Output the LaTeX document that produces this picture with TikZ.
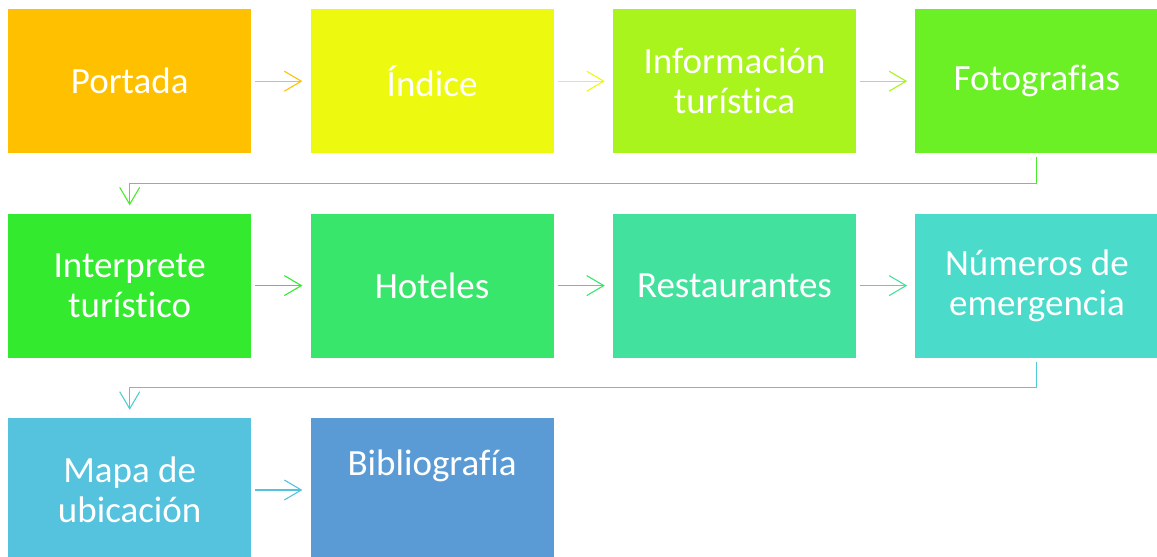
\documentclass[tikz,border=0pt]{standalone}
\usepackage{fontspec}
\setmainfont{Carlito}[Ligatures=NoCommon]
\usetikzlibrary{positioning,arrows.meta}

\definecolor{cPortada}{HTML}{FFC000}
\definecolor{cIndice}{HTML}{EDF90F}
\definecolor{cInfo}{HTML}{A8F41C}
\definecolor{cFotos}{HTML}{6BF026}
\definecolor{cInterprete}{HTML}{33EA2F}
\definecolor{cHoteles}{HTML}{37E66A}
\definecolor{cRestaurantes}{HTML}{43E19E}
\definecolor{cNumeros}{HTML}{4BDBCB}
\definecolor{cMapa}{HTML}{55C2DE}
\definecolor{cBiblio}{HTML}{5B9BD5}

\begin{document}
\begin{tikzpicture}[x=1pt,y=1pt,node distance=60pt and 59pt,
caja/.style={#1,fill=#1,rectangle,minimum width=243pt,minimum height=144pt,inner sep=0pt,align=center,text=white,font=\fontsize{37}{40}\selectfont},
flecha/.style={#1,line width=1.1pt,-{Straight Barb[length=17pt,width=20pt]},shorten <=4pt,shorten >=8pt}]
\useasboundingbox (0,0) rectangle (1157,557);
% primera fila
\node[caja=cPortada,anchor=north west] (portada) at (8,548) {Portada};
\node[caja=cIndice,right=of portada] (indice) {Índice};
\node[caja=cInfo,right=of indice] (info) {Información\\turística};
\node[caja=cFotos,right=of info] (fotos) {Fotografias};
% segunda fila
\node[caja=cInterprete,below=of portada] (interprete) {Interprete\\turístico};
\node[caja=cHoteles,right=of interprete] (hoteles) {Hoteles};
\node[caja=cRestaurantes,right=of hoteles] (restaurantes) {Restaurantes};
\node[caja=cNumeros,right=of restaurantes] (numeros) {Números de\\emergencia};
% tercera fila
\node[caja=cMapa,below=of interprete] (mapa) {Mapa de\\ubicación};
\node[caja=cBiblio,right=of mapa] (biblio) {Bibliografía\\[14pt]\mbox{}};
\foreach \a/\b/\c in {portada/indice/cPortada,indice/info/cIndice,info/fotos/cInfo,
  interprete/hoteles/cInterprete,hoteles/restaurantes/cHoteles,restaurantes/numeros/cRestaurantes,
  mapa/biblio/cMapa} {
   \draw[flecha=\c] (\a) -- (\b);
}
\draw[flecha=cFotos!40!cInterprete] (fotos.south) -- ++(0,-30) -| (interprete.north);
\draw[flecha=cNumeros!40!cMapa] (numeros.south) -- ++(0,-30) -| (mapa.north);
\end{tikzpicture}
\end{document}
